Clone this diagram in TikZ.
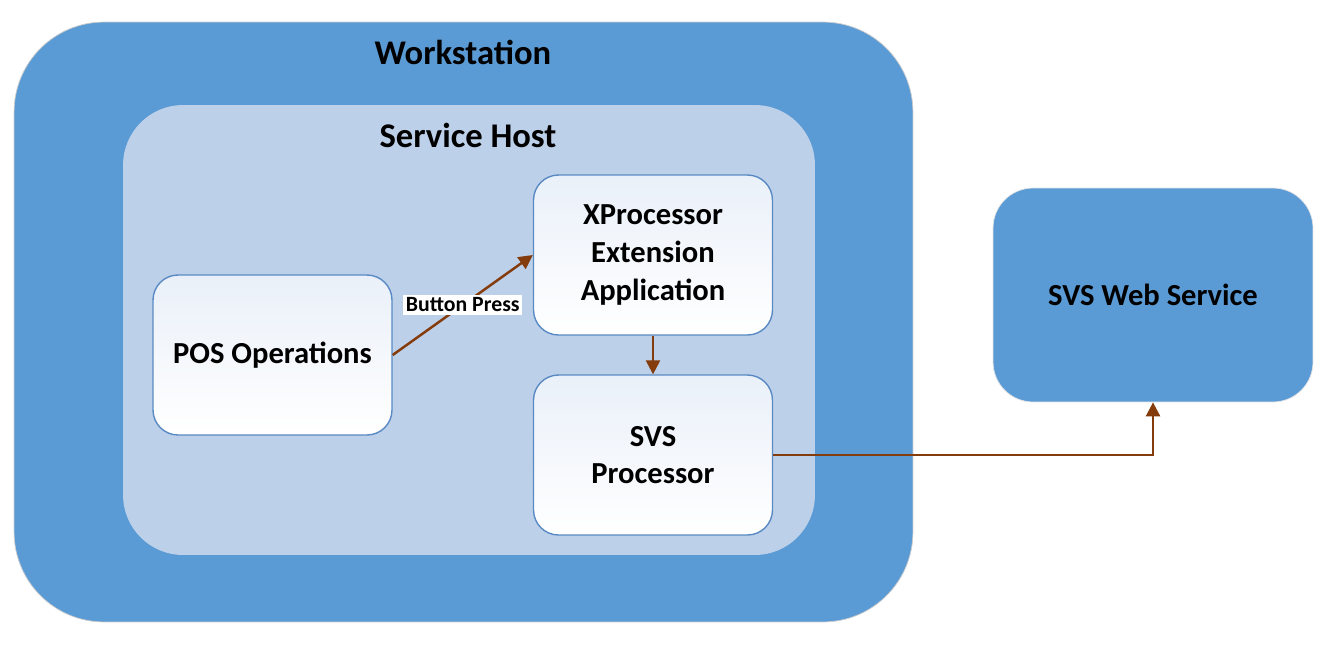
\documentclass[tikz,border=0pt]{standalone}
\usepackage{fontspec}
\setmainfont{Carlito}
\usepackage{tikz}
\usetikzlibrary{arrows.meta}
\definecolor{wsblue}{HTML}{5B9BD5}
\definecolor{hostblue}{HTML}{BDD0E9}
\definecolor{boxline}{HTML}{5A8AC4}
\definecolor{boxtop}{HTML}{EAF0F9}
\definecolor{flowbrown}{HTML}{843C0C}
\tikzset{%
  container/.style={
    rectangle,
    draw=none,
    inner sep=0pt
  },
  procbox/.style={
    rectangle,
    draw=boxline,
    line width=0.8pt,
    rounded corners=0.5cm,
    top color=boxtop,
    bottom color=white,
    minimum width=4.78cm,
    minimum height=3.2cm,
    align=center,
    font=\fontsize{17.4}{21.5}\selectfont\bfseries
  },
  title/.style={
    font=\fontsize{19.7}{24}\selectfont\bfseries
  },
  flow/.style={
    draw=flowbrown,
    line width=1.4pt,
    -{Triangle[length=8pt,width=8pt]}
  },
}

\begin{document}
\begin{tikzpicture}[x=0.02cm, y=-0.02cm]
\fill[white] (0,0) rectangle (1327,646);
\useasboundingbox (0,0) rectangle (1327,646);
    % containers
    \node[container, fill=wsblue, draw=black!20, line width=0.4pt,
      rounded corners=1.8cm, minimum width=17.98cm, minimum height=12cm]
      (workstation) at (463.5,322) {};
    \node[container, fill=hostblue, rounded corners=1.2cm,
      minimum width=13.84cm, minimum height=9cm]
      (servicehost) at (469,330) {};
    \node[title] (wstitle) at (463,52) {Workstation};
    \node[title] (hosttitle) at (468,135) {Service Host};

    % processes
    \node[procbox] (pos) at (272.5,355) {POS Operations};
    \node[procbox] (xproc) at (653,255) {XProcessor\\Extension\\Application};
    \node[procbox] (svsproc) at (653,455) {SVS\\Processor};
    \node[container, fill=wsblue, draw=black!10, line width=0.4pt,
      rounded corners=0.8cm, minimum width=6.4cm, minimum height=4.28cm,
      font=\fontsize{17.4}{21.5}\selectfont\bfseries]
      (svsweb) at (1153,295) {SVS Web Service};

    % flows
    \draw[flow] (pos.east) -- node[fill=white, inner sep=1.5pt,
      font=\fontsize{12.4}{14}\selectfont\bfseries] (press) {Button Press} (xproc.west);
    \draw[flow] (xproc.south) -- (svsproc.north);
    \draw[flow] (svsproc.east) -| (svsweb.south);
\end{tikzpicture}
\end{document}
